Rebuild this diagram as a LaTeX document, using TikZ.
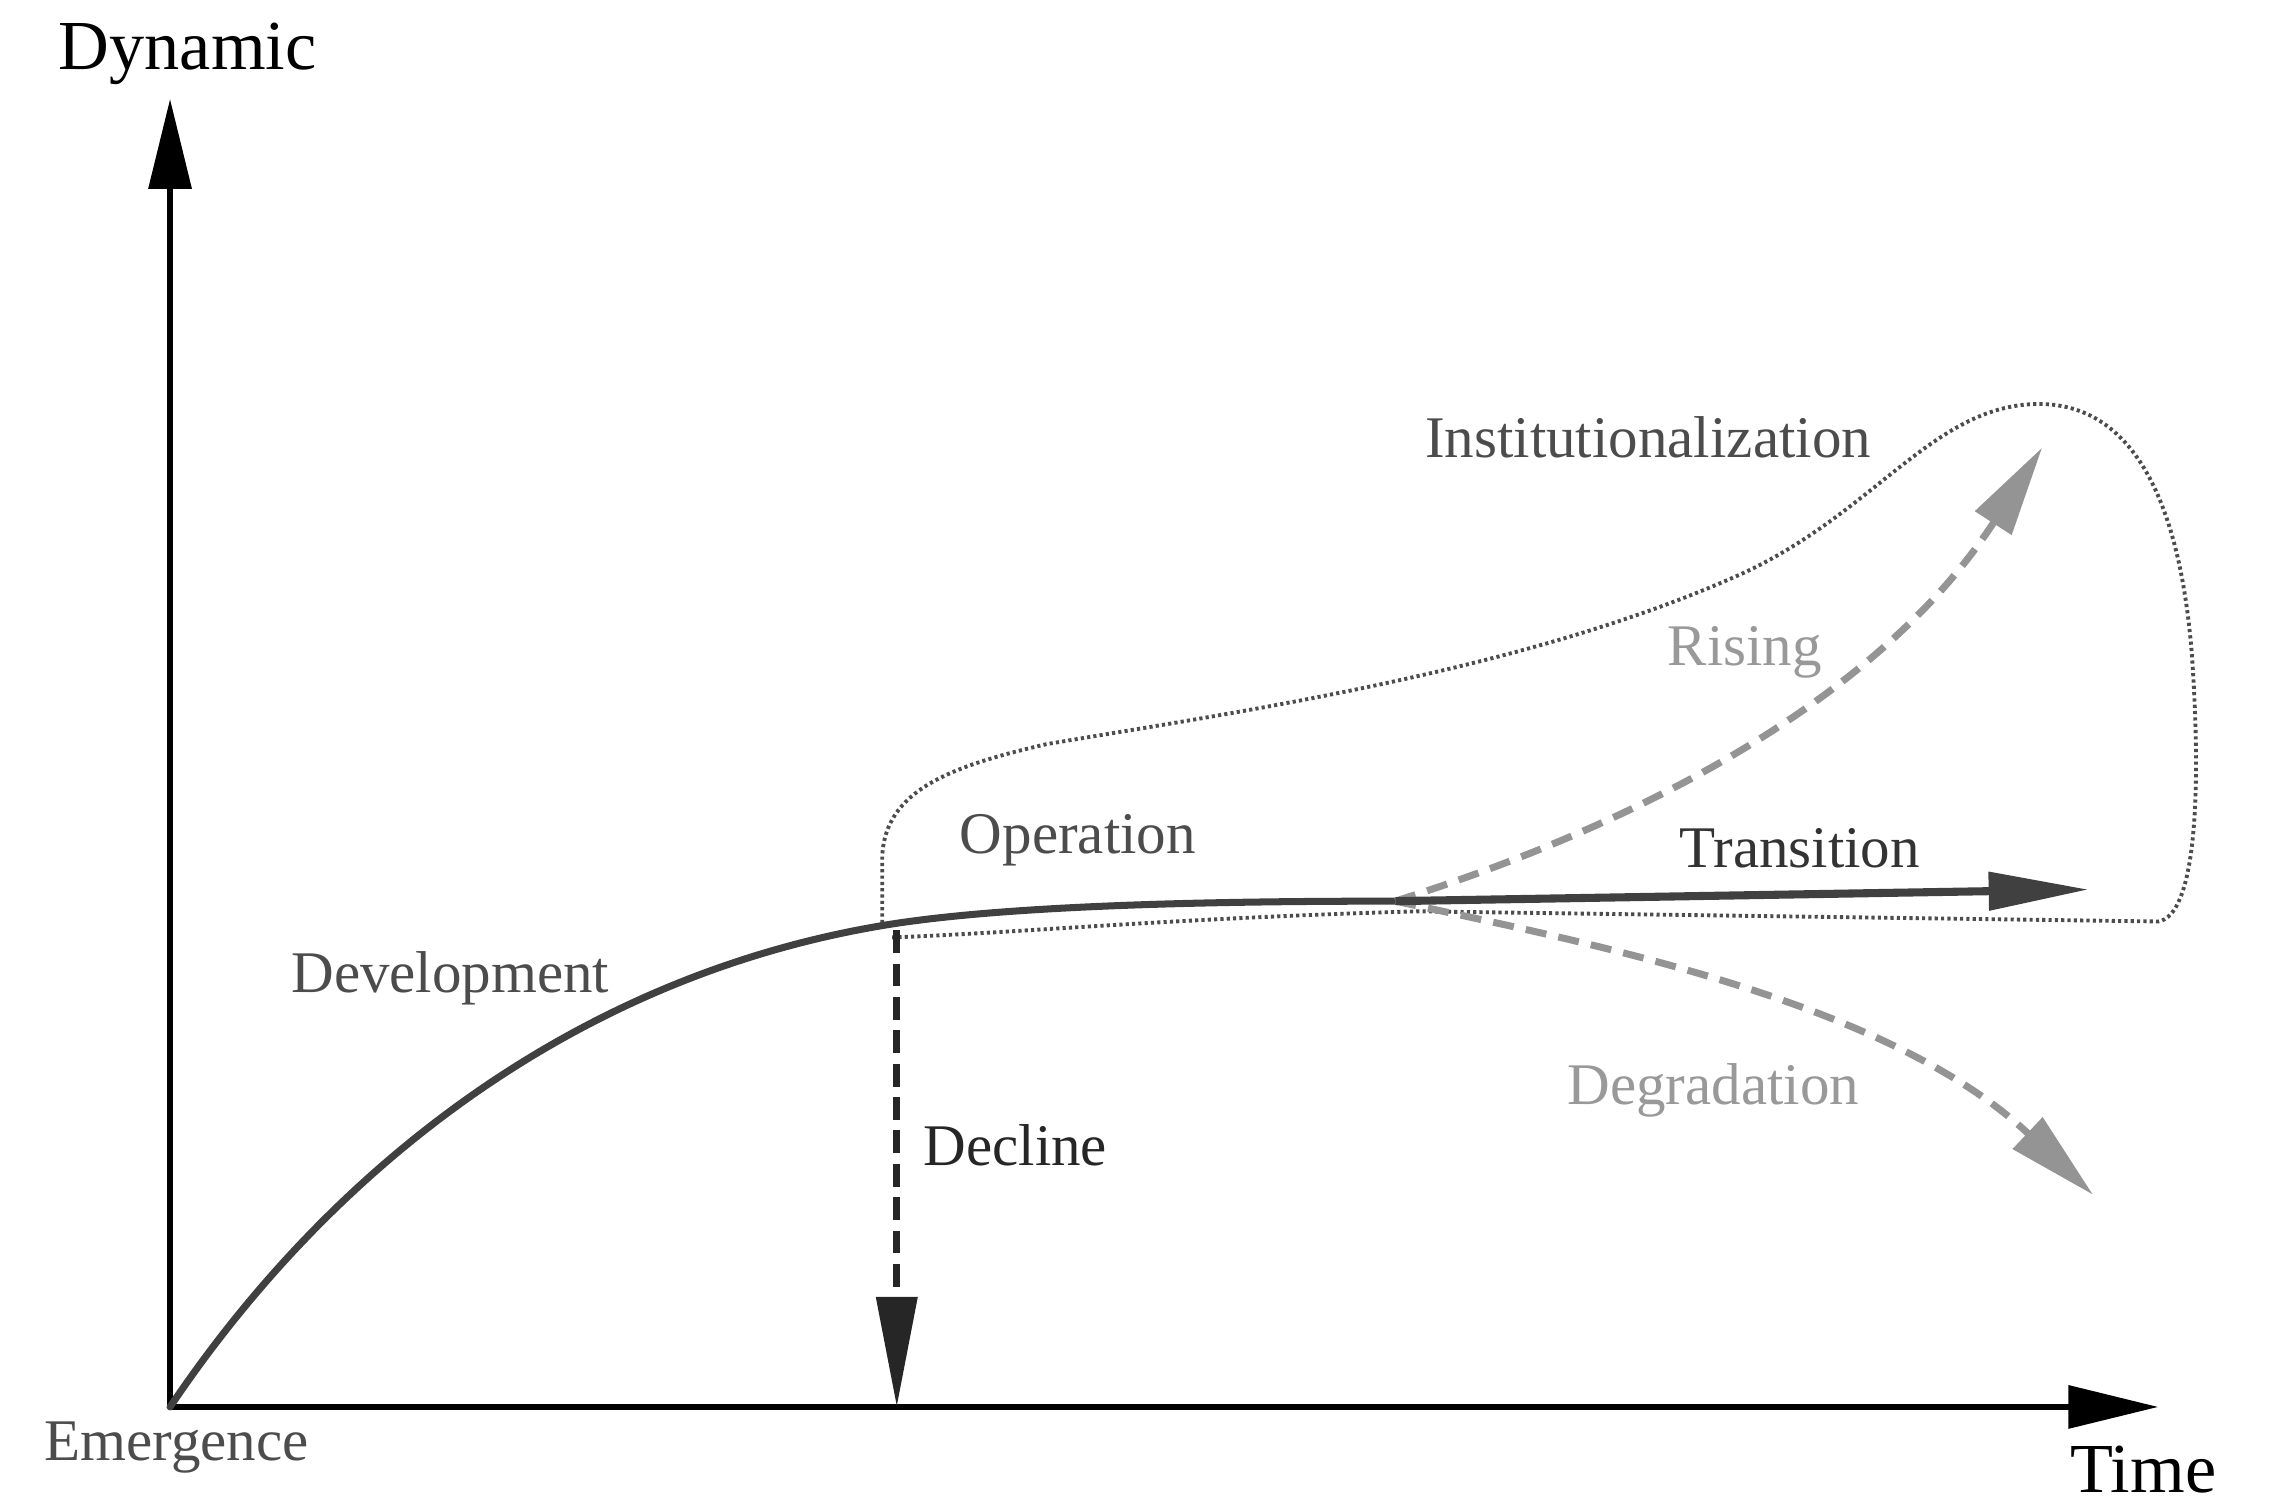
\documentclass[tikz,border=0pt]{standalone}
\usepackage{fontspec}
\setmainfont{Liberation Serif}
\usetikzlibrary{arrows.meta}
\begin{document}
\begin{tikzpicture}[x=0.014534cm,y=-0.014534cm,
  lbl/.style={anchor=base west, inner sep=0pt, font=\fontsize{16.8}{18}\selectfont},
  axl/.style={anchor=base west, inner sep=0pt, font=\fontsize{20}{22}\selectfont, text=black},
  axisline/.style={line width=1.8pt, black, -{Triangle[length=0.9cm,width=0.42cm]}},
  mainline/.style={line width=2pt, black!75, line cap=round},
  branchdash/.style={line width=2pt, black!42, dash pattern=on 6pt off 3.5pt, -{Triangle[length=0.9cm,width=0.42cm]}},
  declinedash/.style={line width=2pt, black!85, dash pattern=on 6.5pt off 3pt, -{Triangle[length=1.1cm,width=0.4cm]}},
  outline/.style={line width=1.1pt, black!70, dash pattern=on 0.9pt off 0.9pt}]
\useasboundingbox (0,0) rectangle (1568,1035);
\coordinate (O) at (117,968);
\coordinate (Ytip) at (117,68);
\coordinate (Xtip) at (1485,968);
\coordinate (P) at (612,636);
\coordinate (B) at (960,620);
\coordinate (Ttip) at (1437,612);
\coordinate (Rtip) at (1405,308);
\coordinate (Dtip) at (1440,822);
\coordinate (Ctop) at (617,640);
\coordinate (Cbot) at (617,968);
% dotted outline
\draw[outline] (607,635) -- (607,588) .. controls (610,545) and (650,528) .. (720,512)
  .. controls (850,490) and (1050,462) .. (1200,394)
  .. controls (1290,352) and (1330,280) .. (1400,278)
  .. controls (1470,276) and (1500,350) .. (1508,450)
  .. controls (1515,550) and (1510,630) .. (1485,634)
  -- (975,627) .. controls (800,632) and (700,642) .. (612,645);
% axes
\draw[axisline] (O) -- (Ytip);
\draw[axisline] (O) -- (Xtip);
% main curve
\draw[mainline] (O) .. controls (230,800) and (400,670) .. (P)
  .. controls (700,622) and (850,620) .. (B);
% branches
\draw[branchdash] (B) .. controls (1150,560) and (1300,470) .. (Rtip);
\draw[branchdash] (B) .. controls (1100,650) and (1300,690) .. (Dtip);
\draw[line width=2.3pt, black!75, -{Triangle[length=1cm,width=0.37cm]}] (B) -- (Ttip);
\draw[declinedash] (Ctop) -- (Cbot);
% labels
\node[axl] (dyn) at (40,48) {Dynamic};
\node[axl] (time) at (1424,1027) {Time};
\node[lbl, text=black!70] (emer) at (30,1005) {Emergence};
\node[lbl, text=black!70] (dev) at (200,683) {Development};
\node[lbl, text=black!70] (oper) at (660,587) {Operation};
\node[lbl, text=black!85] (decl) at (635,802) {Decline};
\node[lbl, text=black!70] (inst) at (980,315) {Institutionalization};
\node[lbl, text=black!40] (rise) at (1147,458) {Rising};
\node[lbl, text=black!80] (trans) at (1155,597) {Transition};
\node[lbl, text=black!40] (degr) at (1078,760) {Degradation};
\end{tikzpicture}
\end{document}
